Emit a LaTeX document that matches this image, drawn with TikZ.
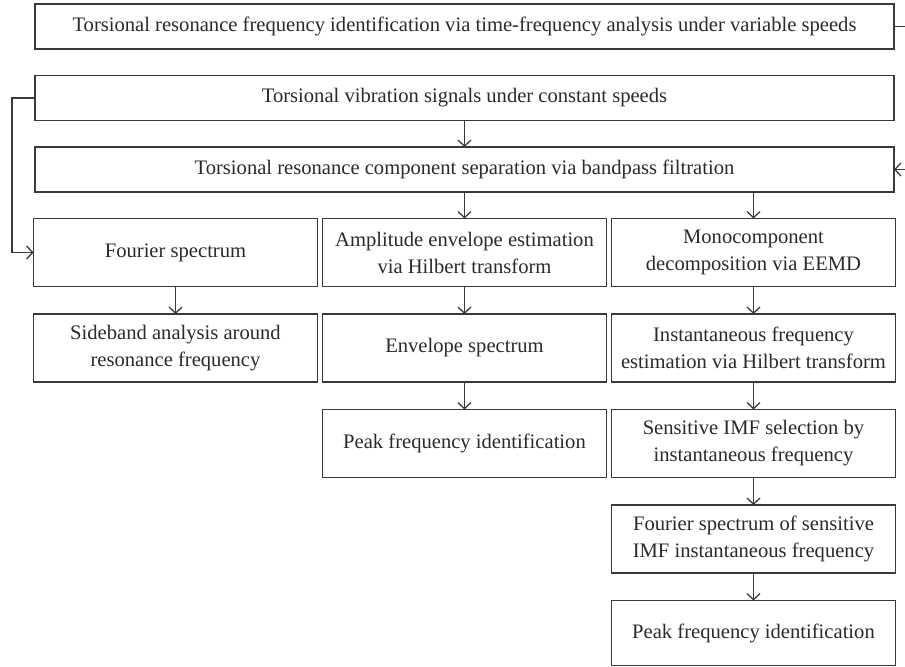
\documentclass[tikz,border=0pt]{standalone}
\usepackage{fontspec}
\setmainfont{Liberation Serif}
\usetikzlibrary{arrows.meta, positioning}
\definecolor{clrLine}{HTML}{3A3A3A}
\definecolor{clrText}{HTML}{2A2A2A}

\begin{document}
\begin{tikzpicture}[
  x=0.5pt, y=-0.5pt,
  node distance = 13.25pt and 2.5pt,
  wide/.style = {
    rectangle,
    draw=clrLine,
    line width=0.65pt,
    outer sep=0pt,
    minimum width=429.5pt,
    minimum height=22.5pt,
    inner sep=2pt,
    font=\fontsize{10.3}{13.5}\selectfont,
    text=clrText
  },
  box/.style = {
    rectangle,
    draw=clrLine,
    line width=0.65pt,
    outer sep=0pt,
    minimum width=142pt,
    minimum height=34pt,
    inner sep=1pt,
    align=center,
    font=\fontsize{10.3}{13.5}\selectfont,
    text=clrText
  },
  arrow/.style = {
    -{Straight Barb[length=3pt, width=6.5pt]},
    line width=0.65pt,
    color=clrLine
  }
]
\useasboundingbox (0,0) rectangle (905,667);

% ── wide nodes ───────────────────────────────────────────────────────────────
\node[wide] (variable) at (464.5,26.5)
  {Torsional resonance frequency identification via time-frequency analysis under variable speeds};
\node[wide, below=of variable] (constant)
  {Torsional vibration signals under constant speeds};
\node[wide, below=of constant] (bandpass)
  {Torsional resonance component separation via bandpass filtration};

% ── three columns ────────────────────────────────────────────────────────────
\node[box, below=13.25pt of bandpass] (amplitude)
  {Amplitude envelope estimation\\ via Hilbert transform};
\node[box, left=of amplitude] (fourier) {Fourier spectrum};
\node[box, right=of amplitude] (mono)
  {Monocomponent\\ decomposition via EEMD};

\node[box, below=13.75pt of fourier] (sideband)
  {Sideband analysis around\\ resonance frequency};
\node[box, below=13.75pt of amplitude] (envelope) {Envelope spectrum};
\node[box, below=13.75pt of mono] (instant)
  {Instantaneous frequency\\ estimation via Hilbert transform};

\node[box, below=13.75pt of envelope] (peakenv) {Peak frequency identification};
\node[box, below=13.75pt of instant] (sensitive)
  {Sensitive IMF selection by\\ instantaneous frequency};
\node[box, below=13.75pt of sensitive] (imfspec)
  {Fourier spectrum of sensitive\\ IMF instantaneous frequency};
\node[box, minimum height=32.5pt, below=13.75pt of imfspec] (peakimf)
  {Peak frequency identification};

% ── arrows ───────────────────────────────────────────────────────────────────
\draw[arrow] (constant)  -- (bandpass);
\draw[arrow] (amplitude.north |- bandpass.south) -- (amplitude);
\draw[arrow] (mono.north |- bandpass.south) -- (mono);
\draw[arrow] (fourier)   -- (sideband);
\draw[arrow] (amplitude) -- (envelope);
\draw[arrow] (envelope)  -- (peakenv);
\draw[arrow] (mono)      -- (instant);
\draw[arrow] (instant)   -- (sensitive);
\draw[arrow] (sensitive) -- (imfspec);
\draw[arrow] (imfspec)   -- (peakimf);

% ── side connectors ──────────────────────────────────────────────────────────
\draw[arrow] (constant.west) -- ++(-23,0) |- (fourier.west);
\draw[arrow] (variable.east) -- ++(22,0) |- (bandpass.east);

\end{tikzpicture}
\end{document}
